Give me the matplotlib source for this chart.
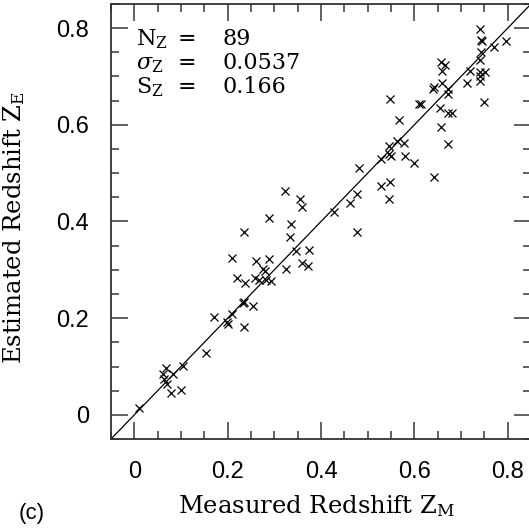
import matplotlib
matplotlib.use("Agg")
import matplotlib.pyplot as plt
from matplotlib.ticker import MultipleLocator, FixedLocator

plt.rcParams['mathtext.fontset'] = 'dejavuserif'

z_measured = [0.011, 0.067, 0.062, 0.082, 0.064, 0.069, 0.079, 0.099, 0.105, 0.154,
              0.171, 0.199, 0.209, 0.232, 0.234, 0.236, 0.255, 0.235, 0.209, 0.221,
              0.238, 0.261, 0.259, 0.268, 0.276, 0.281, 0.289, 0.288, 0.283, 0.292,
              0.324, 0.335, 0.334, 0.347, 0.374, 0.360, 0.372, 0.322, 0.356, 0.360,
              0.427, 0.478, 0.462, 0.478, 0.528, 0.547, 0.546, 0.482, 0.643, 0.529,
              0.545, 0.549, 0.545, 0.563, 0.577, 0.580, 0.600, 0.547, 0.567, 0.611,
              0.614, 0.639, 0.643, 0.659, 0.657, 0.666, 0.660, 0.673, 0.673, 0.655,
              0.673, 0.680, 0.657, 0.673, 0.713, 0.720, 0.740, 0.743, 0.746, 0.742,
              0.771, 0.796, 0.740, 0.741, 0.752, 0.741, 0.740, 0.750, 0.201]
z_estimated = [0.015, 0.096, 0.085, 0.085, 0.074, 0.064, 0.046, 0.052, 0.102, 0.127,
               0.202, 0.192, 0.209, 0.231, 0.233, 0.182, 0.226, 0.378, 0.324, 0.283,
               0.273, 0.318, 0.283, 0.279, 0.302, 0.297, 0.322, 0.407, 0.280, 0.276,
               0.302, 0.394, 0.367, 0.338, 0.340, 0.314, 0.308, 0.464, 0.447, 0.430,
               0.419, 0.457, 0.439, 0.378, 0.474, 0.481, 0.446, 0.510, 0.493, 0.530,
               0.540, 0.536, 0.557, 0.566, 0.562, 0.535, 0.522, 0.654, 0.609, 0.644,
               0.643, 0.674, 0.678, 0.686, 0.730, 0.724, 0.712, 0.674, 0.664, 0.635,
               0.624, 0.624, 0.595, 0.561, 0.686, 0.712, 0.798, 0.775, 0.774, 0.751,
               0.762, 0.774, 0.735, 0.710, 0.709, 0.701, 0.691, 0.648, 0.187]

stat_names = [r'N$_\mathrm{Z}$', r'$\sigma_\mathrm{Z}$', r'S$_\mathrm{Z}$']
stat_values = ['89', '0.0537', '0.166']
major_ticks = [0, 0.2, 0.4, 0.6, 0.8]
tick_labels = ['0', '0.2', '0.4', '0.6', '0.8']

fig = plt.figure(figsize=(5.29, 5.29), dpi=100)
W = H = 529.0
ax = fig.add_axes([111 / W, (H - 439) / H, 420 / W, 435 / H])

ax.plot(z_measured, z_estimated, linestyle='none', marker='x', color='black',
        markersize=6, markeredgewidth=0.9)
ax.axline((0, 0), slope=1, color='black', linewidth=0.9)

ax.set_xlim(-0.05, 0.85)
ax.set_ylim(-0.05, 0.85)

for axis in (ax.xaxis, ax.yaxis):
    axis.set_major_locator(FixedLocator(major_ticks))
    axis.set_minor_locator(MultipleLocator(0.05))
ax.set_xticklabels(tick_labels)
ax.set_yticklabels(tick_labels)

ax.tick_params(which='both', direction='in', top=True, right=True,
               color='#555555', width=1.3)
ax.tick_params(which='major', length=12, labelsize=17, pad=16)
ax.tick_params(which='minor', length=6)
for lab in ax.get_xticklabels() + ax.get_yticklabels():
    lab.set_family('Liberation Sans')

for sp in ax.spines.values():
    sp.set_color('#333333')
    sp.set_linewidth(1.3)

ax.set_xlabel(r'Measured Redshift Z$_\mathrm{M}$', family='DejaVu Serif', fontsize=17.5)
ax.set_ylabel(r'Estimated Redshift Z$_\mathrm{E}$', family='DejaVu Serif', fontsize=17.5)
ax.xaxis.set_label_coords(0.489, -0.124)
ax.yaxis.set_label_coords(-0.2, 0.485)

for i, (nm, val) in enumerate(zip(stat_names, stat_values)):
    yb = 1 - (45 + 24 * i - 4) / 435.0
    ax.text((136 - 111) / 420.0, yb, nm, transform=ax.transAxes, family='DejaVu Serif',
            fontsize=16, va='baseline', ha='left')
    ax.text((178 - 111) / 420.0, yb, '=', transform=ax.transAxes, family='DejaVu Serif',
            fontsize=16, va='baseline', ha='left')
    ax.text((222 - 111) / 420.0, yb, val, transform=ax.transAxes, family='DejaVu Serif',
            fontsize=16, va='baseline', ha='left')

fig.text(32 / W, 1 - 514 / H, '(c)', family='Liberation Sans', fontsize=16,
         ha='center', va='center')

fig.savefig('out.png', dpi=100)
